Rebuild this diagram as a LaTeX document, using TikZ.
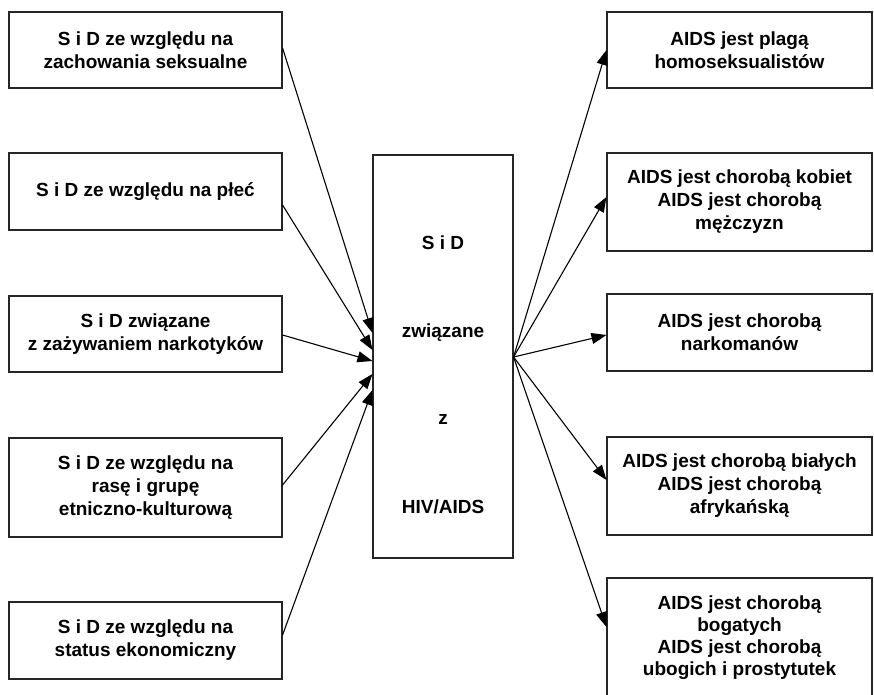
\documentclass[tikz,border=0pt]{standalone}
\usepackage{fontspec}
\setmainfont{Liberation Sans}
\usetikzlibrary{arrows.meta,calc}
\begin{document}
\begin{tikzpicture}[x=1pt,y=-1pt,
  box/.style={draw=black!85, line width=1.1pt, inner sep=0pt, align=center,
    font=\bfseries\fontsize{19}{23}\selectfont},
  lbox/.style={box, minimum width=273pt},
  rbox/.style={box, minimum width=265pt},
  txt/.style={inner sep=0pt, align=center, anchor=base,
    font=\bfseries\fontsize{19}{23}\selectfont},
  arr/.style={-{Triangle[length=15pt,width=11pt]}, line width=1.1pt}]
\useasboundingbox (0,0) rectangle (874,694);
% left boxes
\node[lbox, minimum height=76pt] (l1) at (145.5,50) {S i D ze względu na\\zachowania seksualne};
\node[lbox, minimum height=77pt] (l2) at (145.5,191.5) {S i D ze względu na płeć};
\node[lbox, minimum height=76pt] (l3) at (145.5,334) {S i D związane\\z zażywaniem narkotyków};
\node[lbox, minimum height=99pt] (l4) at (145.5,487.5) {S i D ze względu na\\rasę i grupę\\etniczno-kulturową};
\node[lbox, minimum height=77pt] (l5) at (145.5,640.5) {S i D ze względu na\\status ekonomiczny};
% centre box
\node[box, minimum width=140pt, minimum height=403pt] (c) at (443,356.5) {};
\node[txt] (c1) at (443,249) {S i D};
\node[txt] (c2) at (443,337) {związane};
\node[txt] (c3) at (443,424) {z};
\node[txt] (c4) at (443,513) {HIV/AIDS};
% right boxes
\node[rbox, minimum height=76pt] (r1) at (739.5,50) {AIDS jest plagą\\homoseksualistów};
\node[rbox, minimum height=98pt] (r2) at (739.5,202) {AIDS jest chorobą kobiet\\AIDS jest chorobą\\mężczyzn};
\node[rbox, minimum height=77pt] (r3) at (739.5,332.5) {AIDS jest chorobą\\narkomanów};
\node[rbox, minimum height=98pt] (r4) at (739.5,486) {AIDS jest chorobą białych\\AIDS jest chorobą\\afrykańską};
\node[rbox, minimum height=160pt] (r5) at (739.5,658) {};
\node[inner sep=0pt, align=center, font=\bfseries\fontsize{19}{22}\selectfont] (r5t) at (739.5,638)
  {AIDS jest chorobą\\bogatych\\AIDS jest chorobą\\ubogich i prostytutek};
% connectors into the centre
\draw[arr] (l1.east |- 0,48)  -- (c.west |- 0,333);
\draw[arr] (l2.east |- 0,205) -- (c.west |- 0,350);
\draw[arr] (l3.east |- 0,335) -- (c.west |- 0,361);
\draw[arr] (l4.east |- 0,485) -- (c.west |- 0,374);
\draw[arr] (l5.east |- 0,635) -- (c.west |- 0,390);
% connectors out of the centre
\coordinate (fan) at (c.east |- 0,357);
\draw[arr] (fan) -- (r1.west |- 0,50);
\draw[arr] (fan) -- (r2.west |- 0,197);
\draw[arr] (fan) -- (r3.west |- 0,335);
\draw[arr] (fan) -- (r4.west |- 0,480);
\draw[arr] (fan) -- (r5.west |- 0,627);
\end{tikzpicture}
\end{document}
